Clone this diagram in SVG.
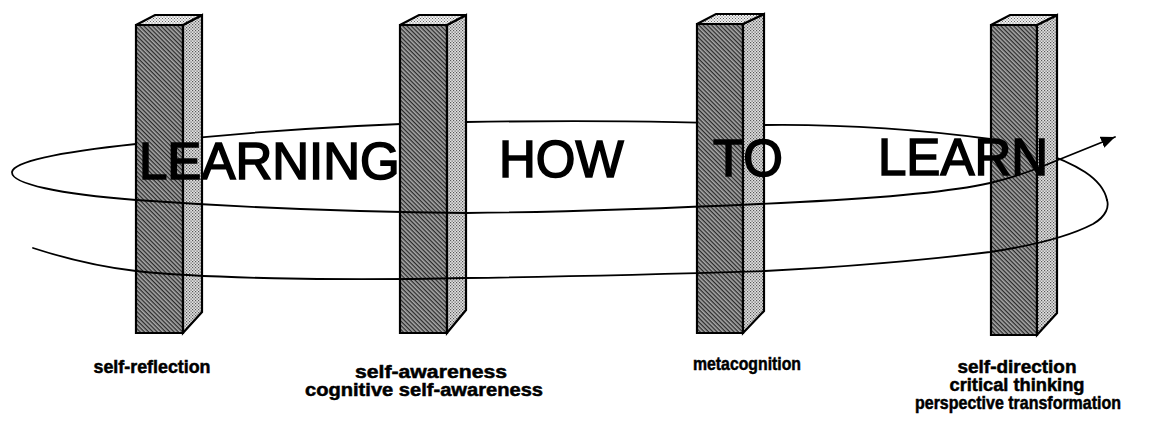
<svg xmlns="http://www.w3.org/2000/svg" width="1169" height="422" viewBox="0 0 1169 422">
<defs>
<pattern id="hatch" width="3" height="3" patternUnits="userSpaceOnUse" patternTransform="rotate(45)">
<rect width="3" height="3" fill="#a8a8a8"/><rect width="3" height="1.3" fill="#2a2a2a"/>
</pattern>
<pattern id="dots" width="3" height="3" patternUnits="userSpaceOnUse">
<rect width="3" height="3" fill="#e2e2e2"/><rect width="1.2" height="1.2" fill="#555"/><rect x="1.5" y="1.5" width="1.2" height="1.2" fill="#555"/>
</pattern>
<pattern id="dotsLight" width="3" height="3" patternUnits="userSpaceOnUse">
<rect width="3" height="3" fill="#f0f0f0"/><rect width="1" height="1" fill="#666"/><rect x="1.5" y="1.5" width="1" height="1" fill="#666"/>
</pattern>
<marker id="ah" markerWidth="16" markerHeight="12" refX="14" refY="6" orient="auto" markerUnits="userSpaceOnUse">
<path d="M0,0 L14,6 L0,12 z" fill="#000"/>
</marker>
</defs>
<style>
.front{fill:url(#hatch);stroke:#000;stroke-width:2.2}
.side{fill:url(#dots);stroke:#000;stroke-width:2.2}
.top{fill:url(#dotsLight);stroke:#000;stroke-width:2.2}
.line{fill:none;stroke:#000;stroke-width:1.8;stroke-linecap:round}
.big{font-family:"Liberation Sans",Arial,sans-serif;font-size:51px;fill:#000;stroke:#000;stroke-width:1.6}
.lab{font-family:"Liberation Sans",Arial,sans-serif;font-size:18px;font-weight:bold;fill:#000;stroke:#000;stroke-width:0.5;text-anchor:middle}
</style>
<rect width="1169" height="422" fill="#fff"/>

<g id="connectors-back">
<path class="line" d="M1107,200 C1105,190 1097,180 1085,172 C1060,156 1020,144 990,139 C930,131 850,124 765,125 C700,122 600,120 466,122 C380,124 260,130 136,144"/>
</g>

<g id="pillar1">
<polygon class="front" points="136,25 183,25 183,333 136,333"/>
<polygon class="side" points="183,25 202,15 202,312 183,333"/>
<polygon class="top" points="136,25 155,15 202,15 183,25"/>
</g>
<g id="pillar2">
<polygon class="front" points="400,25 447,25 447,333 400,333"/>
<polygon class="side" points="447,25 466,15 466,310 447,333"/>
<polygon class="top" points="400,25 419,15 466,15 447,25"/>
</g>
<g id="pillar3">
<polygon class="front" points="697,24 743,24 743,333 697,333"/>
<polygon class="side" points="743,24 764,14 764,311 743,333"/>
<polygon class="top" points="697,24 716,14 764,14 743,24"/>
</g>
<g id="pillar4">
<polygon class="front" points="991,25 1037,25 1037,335 991,335"/>
<polygon class="side" points="1037,25 1057,15 1057,313 1037,335"/>
<polygon class="top" points="991,25 1010,15 1057,15 1037,25"/>
</g>

<g id="connectors">
<path class="line" d="M33,248 C70,260 110,268 136,271 C200,278 330,281 466,278 C600,276 700,273 765,271 C880,265 950,257 990,252 C1030,246 1070,236 1093,224 C1107,216 1109,206 1107,200"/>
<path class="line" marker-end="url(#ah)" d="M136,144 C70,151 14,160 12,172 C11,184 60,194 136,200 C250,208 350,212 466,213 C580,212 700,207 800,202 C880,198 950,192 990,183 C1015,177 1040,168 1058,160 L1115,137"/>
</g>

<g id="title">
<text class="big" x="139" y="179">LEARNING</text>
<text class="big" x="499" y="177">HOW</text>
<text class="big" x="713" y="176">TO</text>
<text class="big" x="878" y="175">LEARN</text>
</g>

<g id="labels">
<text class="lab" x="152" y="373" textLength="117" lengthAdjust="spacingAndGlyphs">self-reflection</text>
<text class="lab" x="431" y="378" textLength="152" lengthAdjust="spacingAndGlyphs">self-awareness</text>
<text class="lab" x="424" y="396" textLength="238" lengthAdjust="spacingAndGlyphs">cognitive self-awareness</text>
<text class="lab" x="747" y="370" textLength="108" lengthAdjust="spacingAndGlyphs">metacognition</text>
<text class="lab" x="1017" y="373" textLength="119" lengthAdjust="spacingAndGlyphs">self-direction</text>
<text class="lab" x="1017" y="391" textLength="135" lengthAdjust="spacingAndGlyphs">critical thinking</text>
<text class="lab" x="1018" y="409" textLength="206" lengthAdjust="spacingAndGlyphs">perspective transformation</text>
</g>
</svg>
